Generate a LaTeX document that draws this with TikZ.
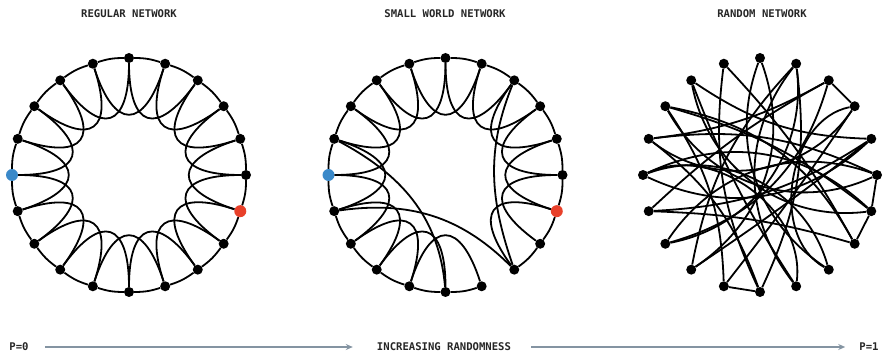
\documentclass[tikz,border=0pt]{standalone}
\usepackage{fontspec}
\newfontfamily\labelfont{DejaVu Sans Mono}
\usetikzlibrary{positioning,arrows.meta}

\definecolor{dotblue}{RGB}{58,137,201}
\definecolor{dotred}{RGB}{232,64,42}
\definecolor{arrowgray}{RGB}{132,148,162}

\begin{document}
\begin{tikzpicture}[
    x=1pt, y=1pt,
    font=\labelfont\bfseries\fontsize{10.6}{12}\selectfont,
    dot/.style={circle, fill=black, inner sep=0pt, minimum size=10pt},
    bluedot/.style={dot, fill=dotblue, minimum size=12pt},
    reddot/.style={dot, fill=dotred, minimum size=12pt},
    edge/.style={black, line width=1.8pt},
    title/.style={text=black!85, inner sep=0pt},
    progress/.style={-{Stealth[length=7pt, width=6pt]}, arrowgray, line width=2.6pt},
  ]
  \useasboundingbox (0,0) rectangle (884,359);

  % titles
  \node[title] (regtitle) at (129,345) {REGULAR NETWORK};
  \node[title] (swtitle) at (445,345) {SMALL WORLD NETWORK};
  \node[title] (rndtitle) at (762,345) {RANDOM NETWORK};

  % regular ring lattice
  \begin{scope}[shift={(129,184)}]
    \foreach \i in {0,...,4,6,7,...,13,15,16,...,19}{
      \pgfmathsetmacro\ang{90+18*\i}
      \node[dot] (reg\i) at (\ang:117) {};
    }
    \node[bluedot] (reg5) at (180:117) {};
    \node[reddot] (reg14) at (342:117) {};
    \foreach \i in {0,...,19}{
      \pgfmathtruncatemacro\j{mod(\i+1,20)}
      \pgfmathtruncatemacro\k{mod(\i+2,20)}
      \pgfmathsetmacro\aout{18*\i+270}
      \pgfmathsetmacro\ain{18*\k+270}
      \draw[edge] (reg\i) to[bend right=9] (reg\j);
      \draw[edge] (reg\i) to[out=\aout, in=\ain, looseness=2.4] (reg\k);
    }
  \end{scope}

  % small world: a few links rewired
  \begin{scope}[shift={(445.5,184)}]
    \foreach \i in {0,...,4,6,7,...,13,15,16,...,19}{
      \pgfmathsetmacro\ang{90+18*\i}
      \node[dot] (sw\i) at (\ang:117) {};
    }
    \node[bluedot] (sw5) at (180:117) {};
    \node[reddot] (sw14) at (342:117) {};
    \foreach \i in {0,...,10,12,13,...,19}{
      \pgfmathtruncatemacro\j{mod(\i+1,20)}
      \draw[edge] (sw\i) to[bend right=9] (sw\j);
    }
    \foreach \i in {0,...,9,12,13,...,19}{
      \pgfmathtruncatemacro\k{mod(\i+2,20)}
      \pgfmathsetmacro\aout{18*\i+270}
      \pgfmathsetmacro\ain{18*\k+270}
      \draw[edge] (sw\i) to[out=\aout, in=\ain, looseness=2.4] (sw\k);
    }
    \draw[edge] (sw4) to[out=-28, in=95] (sw10);
    \draw[edge] (sw6) to[out=8, in=135] (sw12);
    \draw[edge] (sw18) to[out=248, in=109] (sw12);
  \end{scope}

  % random graph
  \begin{scope}[shift={(760,184)}]
    \foreach \i in {0,...,19}{
      \pgfmathsetmacro\ang{90+18*\i}
      \node[dot] (rnd\i) at (\ang:117) {};
    }
    \foreach \a/\b/\t in {0/8/20, 0/12/-20, 1/13/25, 1/10/-25, 2/11/-15, 2/16/20,
                          3/15/-25, 3/14/20, 4/15/25, 4/17/-20, 5/16/-25, 5/12/20,
                          6/18/25, 6/13/-20, 7/19/-25, 7/15/20, 8/19/25, 8/16/-20,
                          9/3/20, 10/19/-25, 11/19/20, 11/5/-25, 12/17/25, 18/4/-25,
                          18/7/20, 6/16/-15, 13/3/-25, 14/2/25, 9/17/-20, 5/14/25,
                          10/4/20}{
      \pgfmathsetmacro\aout{270+18*\a+\t}
      \pgfmathsetmacro\ain{270+18*\b-\t}
      \draw[edge] (rnd\a) to[out=\aout, in=\ain] (rnd\b);
    }
    \foreach \a/\b in {9/10, 13/14, 14/15, 17/18}
      \draw[edge] (rnd\a) -- (rnd\b);
  \end{scope}

  % randomness scale
  \node[title] (p0) at (19,12) {P=0};
  \node[title] (randomness) at (444,12) {INCREASING RANDOMNESS};
  \node[title] (p1) at (869,12) {P=1};
  \draw[progress, shorten <=16pt, shorten >=24pt] (p0) -- (randomness);
  \draw[progress, shorten <=20pt, shorten >=14pt] (randomness) -- (p1);
\end{tikzpicture}
\end{document}
